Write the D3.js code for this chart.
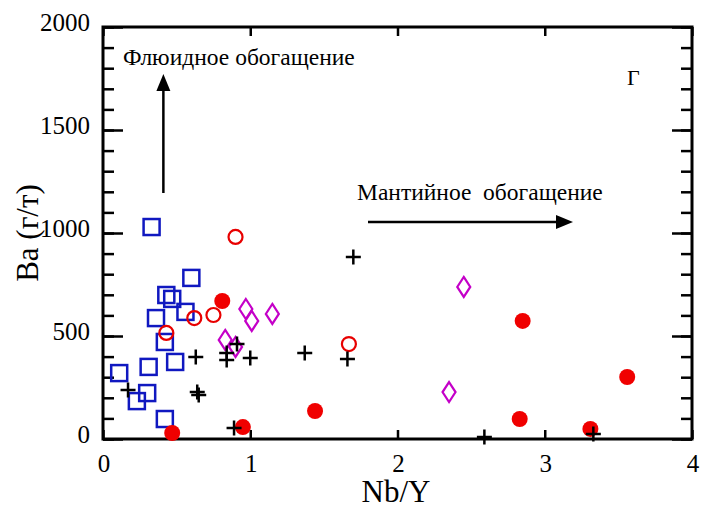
<!DOCTYPE html>
<html>
<head>
<meta charset="utf-8">
<script src="https://cdn.jsdelivr.net/npm/d3@7"></script>
<style>
  body { margin: 0; background: #fff; }
</style>
</head>
<body>
<div id="chart"></div>
<script>
// Nb/Y vs Ba, groups of samples
var squaresX = [0.33, 0.60, 0.43, 0.47, 0.56, 0.36, 0.42, 0.49, 0.31, 0.11, 0.30, 0.23, 0.42];
var squaresY = [1029, 782, 699, 680, 617, 587, 471, 374, 350, 320, 223, 184, 97];

var openCircX = [0.90, 0.43, 0.62, 0.75, 1.67];
var openCircY = [981, 515, 587, 602, 461];

var dotsX = [0.81, 0.47, 0.95, 1.44, 2.85, 2.83, 3.56, 3.31];
var dotsY = [670, 29, 58, 136, 573, 97, 301, 49];

var diamX = [0.97, 1.01, 1.15, 0.83, 0.90, 2.45, 2.35];
var diamY = [631, 573, 607, 481, 447, 738, 228];

var plusX = [0.17, 0.63, 0.64, 0.65, 0.84, 0.84, 0.91, 1.00, 1.37, 0.89, 1.70, 1.66, 2.59, 3.33];
var plusY = [238, 398, 228, 214, 417, 383, 461, 393, 417, 53, 883, 388, 10, 24];

var xTicks = [0, 1, 2, 3, 4];
var yTicks = [0, 500, 1000, 1500, 2000];

var W = 703, H = 509;
var pL = 103, pR = 692, pT = 27, pB = 439;
var FONT = 'Liberation Serif, serif';

var x = d3.scaleLinear().domain([0, 4]).range([pL, pR]);
var y = d3.scaleLinear().domain([0, 2000]).range([pB, pT]);

var svg = d3.select('#chart').append('svg')
  .attr('width', W)
  .attr('height', H);

// minor + major ticks on left and right (inward)
var yMinor = d3.range(0, 2001, 100);
svg.append('g').attr('transform', 'translate(' + pL + ',0)')
  .call(d3.axisRight(y).tickValues(yMinor).tickSize(11).tickFormat(''))
  .call(g => g.select('.domain').remove());
svg.append('g').attr('transform', 'translate(' + pL + ',0)')
  .call(d3.axisRight(y).tickValues(yTicks).tickSize(20).tickFormat(''))
  .call(g => g.select('.domain').remove());
svg.append('g').attr('transform', 'translate(' + pR + ',0)')
  .call(d3.axisLeft(y).tickValues(yMinor).tickSize(11).tickFormat(''))
  .call(g => g.select('.domain').remove());
svg.append('g').attr('transform', 'translate(' + pR + ',0)')
  .call(d3.axisLeft(y).tickValues(yTicks).tickSize(20).tickFormat(''))
  .call(g => g.select('.domain').remove());

// x ticks top and bottom (inward)
svg.append('g').attr('transform', 'translate(0,' + pB + ')')
  .call(d3.axisTop(x).tickValues(xTicks).tickSize(9).tickFormat(''))
  .call(g => g.select('.domain').remove());
svg.append('g').attr('transform', 'translate(0,' + pT + ')')
  .call(d3.axisBottom(x).tickValues(xTicks).tickSize(9).tickFormat(''))
  .call(g => g.select('.domain').remove());

svg.selectAll('.tick line').attr('stroke', '#000').attr('stroke-width', 2.5);

// frame
svg.append('rect')
  .attr('x', pL).attr('y', pT)
  .attr('width', pR - pL).attr('height', pB - pT)
  .attr('fill', 'none').attr('stroke', '#000').attr('stroke-width', 3);

// tick labels
svg.selectAll('.ylab').data(yTicks).enter().append('text')
  .attr('x', 90)
  .attr('y', d => y(d) + 4)
  .attr('text-anchor', 'end')
  .attr('font-size', 25)
  .text(d => d);
svg.selectAll('.xlab').data(xTicks).enter().append('text')
  .attr('x', d => x(d) + 1)
  .attr('y', 472)
  .attr('text-anchor', 'middle')
  .attr('font-size', 25)
  .text(d => d);

// axis titles
svg.append('text')
  .attr('x', 396).attr('y', 502)
  .attr('text-anchor', 'middle')
  .attr('font-size', 31)
  .text('Nb/Y');
svg.append('text')
  .attr('transform', 'translate(38,233) rotate(-90)')
  .attr('text-anchor', 'middle')
  .attr('font-size', 31)
  .text('Ba (г/т)');

// annotations
svg.append('text').attr('x', 123).attr('y', 65).attr('font-size', 23.5).text('Флюидное обогащение');
svg.append('text').attr('x', 357).attr('y', 200).attr('font-size', 23.5)
  .style('white-space', 'pre').text('Мантийное  обогащение');
svg.append('text').attr('x', 627).attr('y', 85).attr('font-size', 22).text('Г');

svg.selectAll('text').attr('font-family', FONT).attr('fill', '#000');

// arrows
var ax = x(0.41);
svg.append('line').attr('x1', ax).attr('x2', ax).attr('y1', 193).attr('y2', 88)
  .attr('stroke', '#000').attr('stroke-width', 2.5);
svg.append('path').attr('d', 'M' + ax + ',74L' + (ax - 7) + ',91L' + (ax + 7) + ',91Z').attr('fill', '#000');
svg.append('line').attr('x1', 368).attr('x2', 558).attr('y1', 222).attr('y2', 222)
  .attr('stroke', '#000').attr('stroke-width', 2.5);
svg.append('path').attr('d', 'M573,222L556,215L556,229Z').attr('fill', '#000');

function pts(xs, ys) { return xs.map((v, i) => [v, ys[i]]); }

// blue squares
svg.append('g').selectAll('rect').data(pts(squaresX, squaresY)).enter().append('rect')
  .attr('x', d => x(d[0]) - 8).attr('y', d => y(d[1]) - 8)
  .attr('width', 16).attr('height', 16)
  .attr('fill', 'none').attr('stroke', '#1018c0').attr('stroke-width', 2.5);

// red open circles
svg.append('g').selectAll('circle').data(pts(openCircX, openCircY)).enter().append('circle')
  .attr('cx', d => x(d[0])).attr('cy', d => y(d[1])).attr('r', 7)
  .attr('fill', 'none').attr('stroke', '#e80000').attr('stroke-width', 2.2);

// magenta diamonds
svg.append('g').selectAll('path').data(pts(diamX, diamY)).enter().append('path')
  .attr('transform', d => 'translate(' + x(d[0]) + ',' + y(d[1]) + ')')
  .attr('d', 'M0,-10L6.5,0L0,10L-6.5,0Z')
  .attr('fill', 'none').attr('stroke', '#c400c8').attr('stroke-width', 2.2);

// red filled circles
svg.append('g').selectAll('circle').data(pts(dotsX, dotsY)).enter().append('circle')
  .attr('cx', d => x(d[0])).attr('cy', d => y(d[1])).attr('r', 8)
  .attr('fill', '#f00000');

// black pluses
svg.append('g').selectAll('path').data(pts(plusX, plusY)).enter().append('path')
  .attr('transform', d => 'translate(' + x(d[0]) + ',' + y(d[1]) + ')')
  .attr('d', 'M-7.5,0H7.5M0,-7.5V7.5')
  .attr('stroke', '#000').attr('stroke-width', 2.5);
</script>
</body>
</html>
